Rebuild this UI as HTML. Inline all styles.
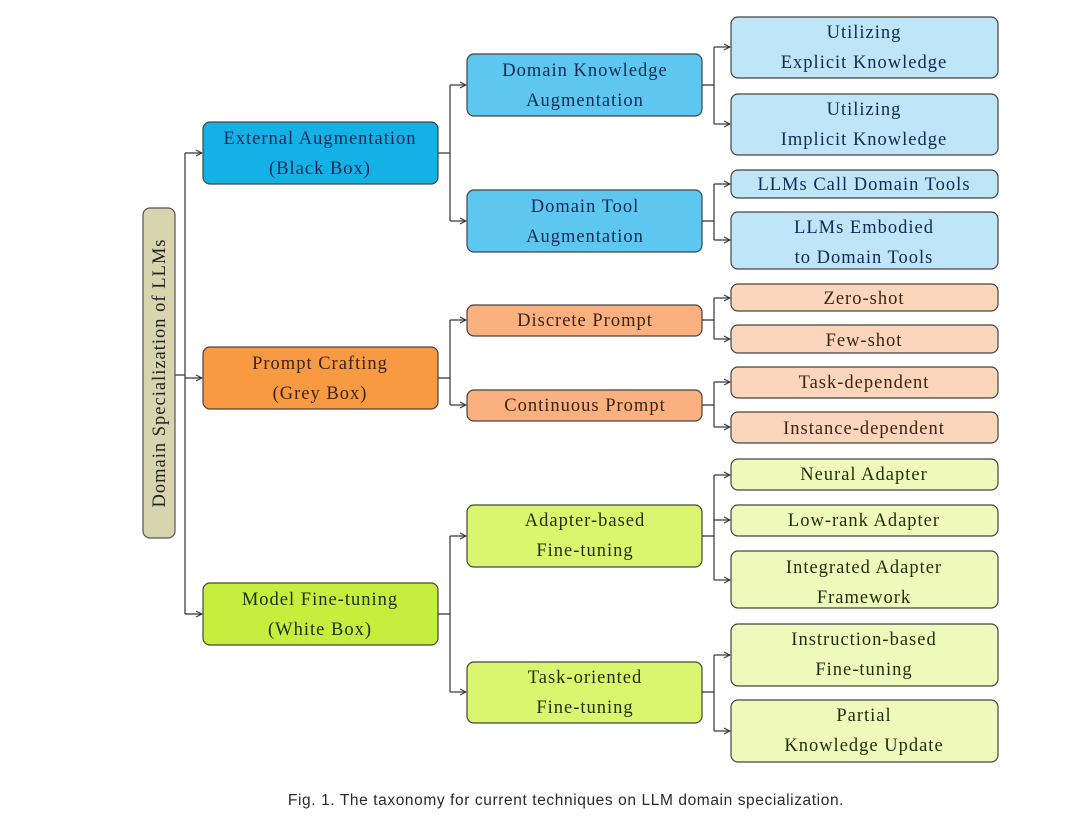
<!DOCTYPE html>
<html><head><meta charset="utf-8"><style>
html,body{margin:0;padding:0;background:#fff;}
svg{display:block}
text{font-family:"Liberation Serif","DejaVu Serif",serif;font-size:18.5px;text-anchor:middle;letter-spacing:1px;}
.cap{font-family:"Liberation Sans","DejaVu Sans",sans-serif;font-size:15.5px;fill:#2a2a2a;letter-spacing:0.6px;}
.ln{stroke:#333;stroke-width:1.2;fill:none}
</style></head><body>
<svg width="1080" height="825" viewBox="0 0 1080 825" xmlns="http://www.w3.org/2000/svg">
<defs><marker id="a" markerWidth="8" markerHeight="8" refX="7" refY="4" orient="auto" markerUnits="userSpaceOnUse"><path d="M1,1 L7,4 L1,7" fill="none" stroke="#333" stroke-width="1"/></marker></defs>

<g class="ln">
<path d="M175,375 H185 M185,153 V614"/>
<path d="M185,153 H202" marker-end="url(#a)"/>
<path d="M185,378 H202" marker-end="url(#a)"/>
<path d="M185,614 H202" marker-end="url(#a)"/>

<path d="M438,153 H450 M450,85 V221"/>
<path d="M450,85 H466" marker-end="url(#a)"/><path d="M450,221 H466" marker-end="url(#a)"/>
<path d="M438,378 H450 M450,320 V405"/>
<path d="M450,320 H466" marker-end="url(#a)"/><path d="M450,405 H466" marker-end="url(#a)"/>
<path d="M438,614 H450 M450,536 V692"/>
<path d="M450,536 H466" marker-end="url(#a)"/><path d="M450,692 H466" marker-end="url(#a)"/>

<path d="M702,85 H714 M714,47 V124"/>
<path d="M714,47 H730" marker-end="url(#a)"/><path d="M714,124 H730" marker-end="url(#a)"/>
<path d="M702,221 H714 M714,184 V240"/>
<path d="M714,184 H730" marker-end="url(#a)"/><path d="M714,240 H730" marker-end="url(#a)"/>
<path d="M702,320 H714 M714,298 V339"/>
<path d="M714,298 H730" marker-end="url(#a)"/><path d="M714,339 H730" marker-end="url(#a)"/>
<path d="M702,405 H714 M714,382 V427"/>
<path d="M714,382 H730" marker-end="url(#a)"/><path d="M714,427 H730" marker-end="url(#a)"/>
<path d="M702,536 H714 M714,475 V580"/>
<path d="M714,475 H730" marker-end="url(#a)"/><path d="M714,520 H730" marker-end="url(#a)"/><path d="M714,580 H730" marker-end="url(#a)"/>
<path d="M702,692 H714 M714,655 V731"/>
<path d="M714,655 H730" marker-end="url(#a)"/><path d="M714,731 H730" marker-end="url(#a)"/>
</g>

<rect x="143" y="208" width="32" height="330" rx="7" fill="#d8d4ae" stroke="#555" stroke-width="1.2"/>
<text transform="translate(165,373) rotate(-90)" fill="#222">Domain Specialization of LLMs</text>

<g stroke="#444" stroke-width="1.2">
<rect x="203" y="122" width="235" height="62" rx="7" fill="#14b1e7"/>
<rect x="203" y="347" width="235" height="62" rx="7" fill="#f89a42"/>
<rect x="203" y="583" width="235" height="62" rx="7" fill="#c6ef3d"/>
<rect x="467" y="54" width="235" height="62" rx="7" fill="#5ec7f0"/>
<rect x="467" y="190" width="235" height="62" rx="7" fill="#5ec7f0"/>
<rect x="467" y="305" width="235" height="31" rx="7" fill="#fab17f"/>
<rect x="467" y="390" width="235" height="31" rx="7" fill="#fab17f"/>
<rect x="467" y="505" width="235" height="62" rx="7" fill="#daf56e"/>
<rect x="467" y="662" width="235" height="61" rx="7" fill="#daf56e"/>
<rect x="731" y="17" width="267" height="61" rx="7" fill="#bfe5f8"/>
<rect x="731" y="94" width="267" height="61" rx="7" fill="#bfe5f8"/>
<rect x="731" y="170" width="267" height="28" rx="7" fill="#bfe5f8"/>
<rect x="731" y="212" width="267" height="57" rx="7" fill="#bfe5f8"/>
<rect x="731" y="284" width="267" height="27" rx="7" fill="#fcd6bb"/>
<rect x="731" y="325" width="267" height="28" rx="7" fill="#fcd6bb"/>
<rect x="731" y="367" width="267" height="31" rx="7" fill="#fcd6bb"/>
<rect x="731" y="412" width="267" height="31" rx="7" fill="#fcd6bb"/>
<rect x="731" y="459" width="267" height="31" rx="7" fill="#eef9bb"/>
<rect x="731" y="505" width="267" height="31" rx="7" fill="#eef9bb"/>
<rect x="731" y="551" width="267" height="57" rx="7" fill="#eef9bb"/>
<rect x="731" y="624" width="267" height="62" rx="7" fill="#eef9bb"/>
<rect x="731" y="700" width="267" height="62" rx="7" fill="#eef9bb"/>
</g>

<g fill="#102a55">
<text x="320" y="144">External Augmentation</text><text x="320" y="174">(Black Box)</text>
<text x="585" y="76">Domain Knowledge</text><text x="585" y="106">Augmentation</text>
<text x="585" y="212">Domain Tool</text><text x="585" y="242">Augmentation</text>
<text x="864" y="38">Utilizing</text><text x="864" y="68">Explicit Knowledge</text>
<text x="864" y="115">Utilizing</text><text x="864" y="145">Implicit Knowledge</text>
<text x="864" y="190">LLMs Call Domain Tools</text>
<text x="864" y="233">LLMs Embodied</text><text x="864" y="263">to Domain Tools</text>
</g>
<g fill="#3a2414">
<text x="320" y="369">Prompt Crafting</text><text x="320" y="399">(Grey Box)</text>
<text x="585" y="326">Discrete Prompt</text>
<text x="585" y="411">Continuous Prompt</text>
<text x="864" y="304">Zero-shot</text>
<text x="864" y="346">Few-shot</text>
<text x="864" y="388">Task-dependent</text>
<text x="864" y="434">Instance-dependent</text>
</g>
<g fill="#1f3008">
<text x="320" y="605">Model Fine-tuning</text><text x="320" y="635">(White Box)</text>
<text x="585" y="526">Adapter-based</text><text x="585" y="556">Fine-tuning</text>
<text x="585" y="683">Task-oriented</text><text x="585" y="713">Fine-tuning</text>
<text x="864" y="480">Neural Adapter</text>
<text x="864" y="526">Low-rank Adapter</text>
<text x="864" y="573">Integrated Adapter</text><text x="864" y="603">Framework</text>
<text x="864" y="645">Instruction-based</text><text x="864" y="675">Fine-tuning</text>
<text x="864" y="721">Partial</text><text x="864" y="751">Knowledge Update</text>
</g>

<text class="cap" x="566" y="805">Fig. 1.  The taxonomy for current techniques on LLM domain specialization.</text>
</svg>
</body></html>
